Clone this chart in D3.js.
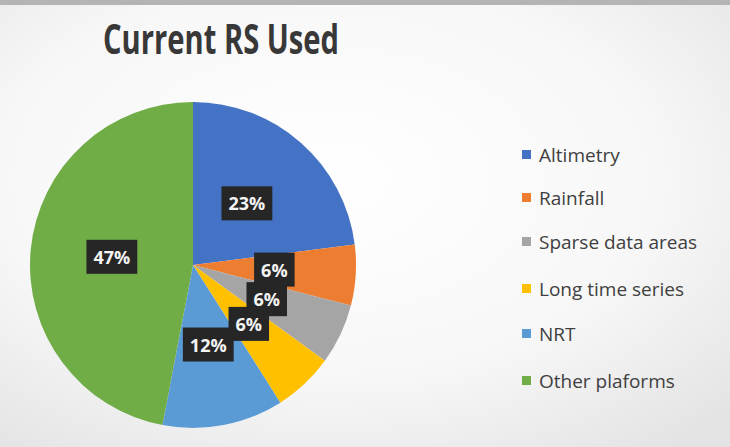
<!DOCTYPE html>
<html>
<head>
<meta charset="utf-8">
<script src="https://cdn.jsdelivr.net/npm/d3@7"></script>
<style>
  html, body { margin: 0; padding: 0; background: #f2f2f2; }
  svg { display: block; }
</style>
</head>
<body>
<svg id="chart" width="730" height="447"></svg>
<script>
const categories = ["Altimetry", "Rainfall", "Sparse data areas", "Long time series", "NRT", "Other plaforms"];
const values = [23, 6, 6, 6, 12, 47];
const labels = ["23%", "6%", "6%", "6%", "12%", "47%"];
const colors = ["#4472C4", "#ED7D31", "#A5A5A5", "#FFC000", "#5B9BD5", "#70AD47"];
const title = "Current RS Used";

const W = 730, H = 447;
const svg = d3.select("#chart");

// background
const defs = svg.append("defs");
const rg = defs.append("radialGradient").attr("id", "bg")
  .attr("cx", "45%").attr("cy", "40%").attr("r", "75%");
rg.append("stop").attr("offset", "0%").attr("stop-color", "#ffffff");
rg.append("stop").attr("offset", "60%").attr("stop-color", "#f7f7f7");
rg.append("stop").attr("offset", "100%").attr("stop-color", "#e4e4e4");
svg.append("rect").attr("width", W).attr("height", H).attr("fill", "url(#bg)");
svg.append("rect").attr("width", W).attr("height", 5).attr("fill", "#b4b4b4");

// title
svg.append("text")
  .attr("x", 221).attr("y", 54)
  .attr("text-anchor", "middle")
  .attr("font-family", "'Open Sans', sans-serif")
  .attr("font-weight", "bold")
  .attr("font-size", 41)
  .attr("fill", "#383838")
  .attr("textLength", 236)
  .attr("lengthAdjust", "spacingAndGlyphs")
  .text(title);

// pie
const cx = 193, cy = 265, R = 163;
const pie = d3.pie().sort(null).value(d => d)(values);
const arc = d3.arc().innerRadius(0).outerRadius(R);
const g = svg.append("g").attr("transform", `translate(${cx},${cy})`);
g.selectAll("path.slice").data(pie).enter().append("path")
  .attr("class", "slice")
  .attr("d", arc)
  .attr("fill", (d, i) => colors[i]);

// labels
const lblArc = d3.arc().innerRadius(0).outerRadius(R * 1.0);
const lg = g.selectAll("g.lbl").data(pie).enter().append("g")
  .attr("class", "lbl")
  .attr("transform", d => `translate(${lblArc.centroid(d)})`);
lg.each(function (d, i) {
  const el = d3.select(this);
  const t = el.append("text")
    .attr("text-anchor", "middle")
    .attr("dy", "0.36em")
    .attr("font-family", "'Open Sans', sans-serif")
    .attr("font-weight", "bold")
    .attr("font-size", 18)
    .attr("fill", "#f4f4f4")
    .text(labels[i]);
  const bb = t.node().getBBox();
  el.insert("rect", "text")
    .attr("x", bb.x - 7).attr("y", bb.y - 5)
    .attr("width", bb.width + 14).attr("height", bb.height + 10)
    .attr("fill", "#262626");
});

// legend
const leg = svg.append("g");
const rowY = [155, 198, 242, 289, 334, 381];
categories.forEach((c, i) => {
  const row = leg.append("g").attr("transform", `translate(522,${rowY[i]})`);
  row.append("rect").attr("x", 0).attr("y", -5).attr("width", 9).attr("height", 9)
    .attr("fill", colors[i]);
  row.append("text").attr("x", 17).attr("y", 0).attr("dy", "0.35em")
    .attr("font-family", "'Open Sans', sans-serif")
    .attr("font-size", 19)
    .attr("fill", "#404040")
    .text(c);
});
</script>
</body>
</html>
